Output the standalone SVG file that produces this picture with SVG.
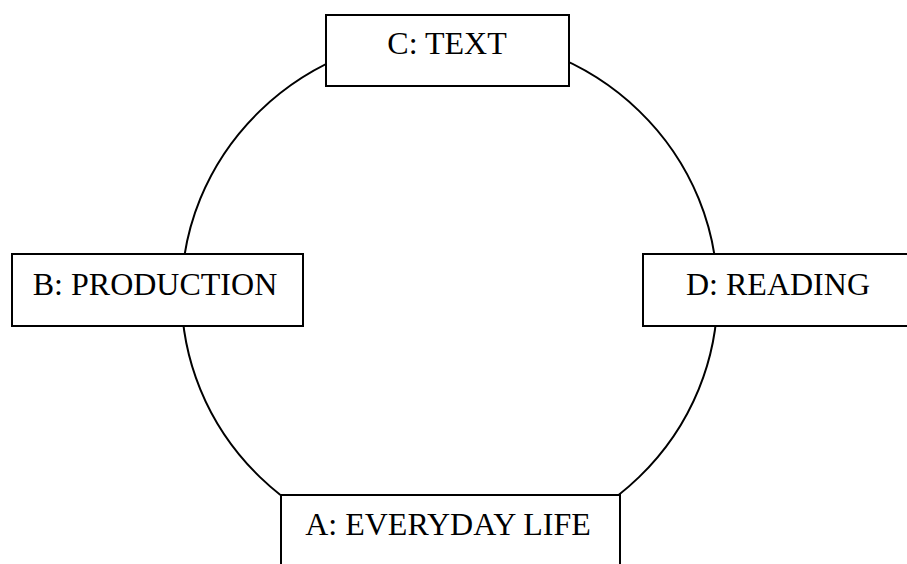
<svg xmlns="http://www.w3.org/2000/svg" width="907" height="564" viewBox="0 0 907 564">
  <style>
    .box { fill: #ffffff; stroke: #000000; stroke-width: 2; }
    .label { font-family: "Liberation Serif", "Times New Roman", serif; font-size: 32px; fill: #000000; text-anchor: middle; }
    .cycle { fill: none; stroke: #000000; stroke-width: 2; }
  </style>
  <rect width="907" height="564" fill="#ffffff"/>
  <g id="connectors">
    <ellipse class="cycle" cx="449.5" cy="294" rx="268" ry="259"/>
  </g>
  <g id="node-c">
    <rect class="box" x="326" y="15" width="243" height="71"/>
    <text class="label" x="447" y="54">C: TEXT</text>
  </g>
  <g id="node-b">
    <rect class="box" x="12" y="254" width="291" height="72"/>
    <text class="label" x="155" y="295">B: PRODUCTION</text>
  </g>
  <g id="node-d">
    <rect class="box" x="643" y="254" width="280" height="72"/>
    <text class="label" x="778" y="295">D: READING</text>
  </g>
  <g id="node-a">
    <rect class="box" x="281" y="495" width="339" height="90"/>
    <text class="label" x="448" y="535">A: EVERYDAY LIFE</text>
  </g>
</svg>
